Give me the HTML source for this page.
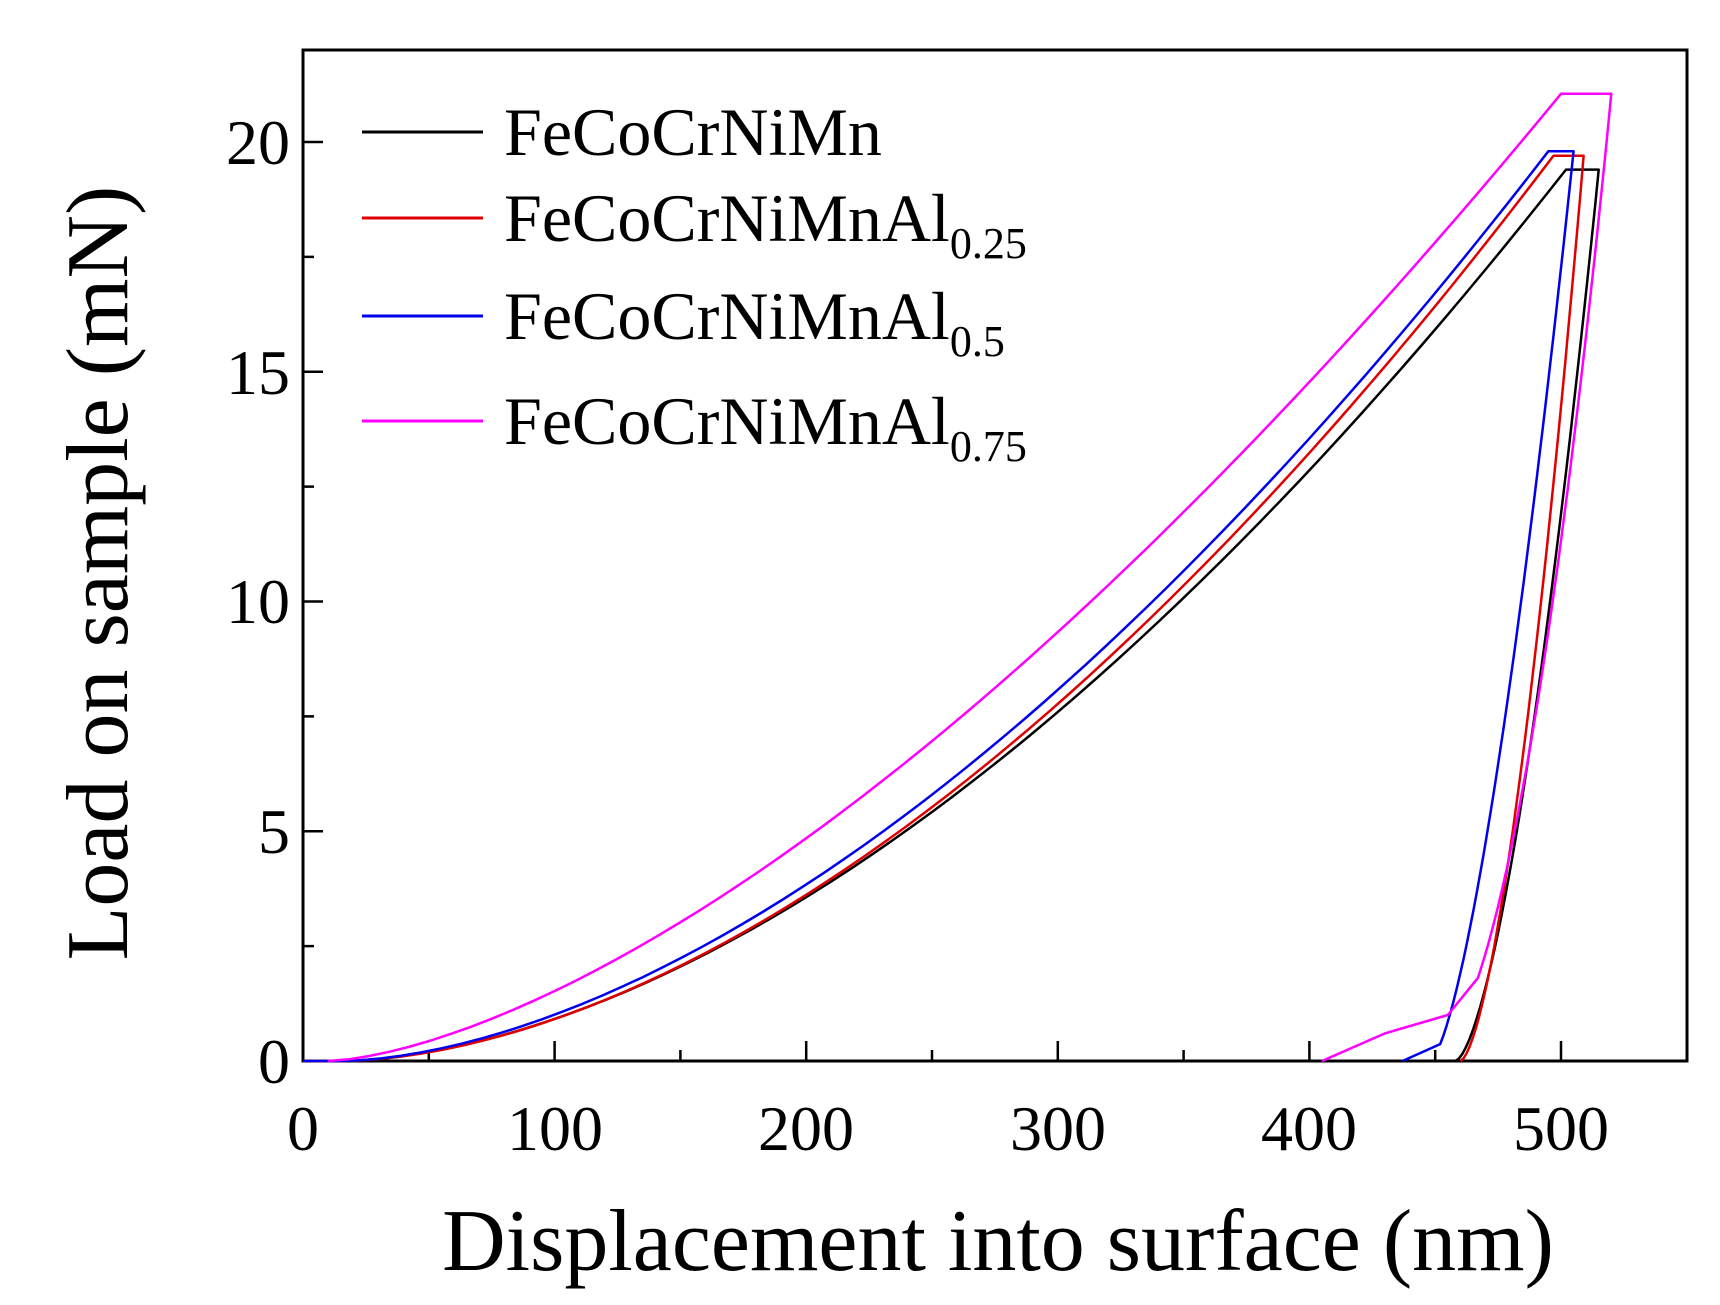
<!DOCTYPE html>
<html><head><style>
html,body{margin:0;padding:0;background:#fff;}
svg{display:block;font-family:"Liberation Serif",serif;}
</style></head><body>
<svg id="s" width="1720" height="1305" viewBox="0 0 1720 1305" xmlns="http://www.w3.org/2000/svg">
<rect x="303" y="50" width="1384" height="1011" fill="none" stroke="#000" stroke-width="3"/>
<g id="ticks" stroke="#000" stroke-width="2.5"></g>
<g font-size="64" fill="#000" text-anchor="end">
<text x="290" y="1083">0</text>
<text x="290" y="853">5</text>
<text x="290" y="623">10</text>
<text x="290" y="394">15</text>
<text x="290" y="164">20</text>
</g>
<g font-size="64" fill="#000" text-anchor="middle">
<text x="303" y="1150">0</text>
<text x="555" y="1150">100</text>
<text x="806" y="1150">200</text>
<text x="1058" y="1150">300</text>
<text x="1309" y="1150">400</text>
<text x="1561" y="1150">500</text>
</g>
<text x="998" y="1270" font-size="88" text-anchor="middle">Displacement into surface (nm)</text>
<text transform="translate(127,573) rotate(-90)" font-size="88" text-anchor="middle">Load on sample (mN)</text>
<g id="curves" fill="none" stroke-width="2.5" stroke-linejoin="round"></g>
<g stroke-width="3">
<line x1="362" y1="132" x2="483" y2="132" stroke="#000"/>
<line x1="362" y1="218" x2="483" y2="218" stroke="#e00000"/>
<line x1="362" y1="316" x2="483" y2="316" stroke="#0000ee"/>
<line x1="362" y1="421" x2="483" y2="421" stroke="#ff00ff"/>
</g>
<g font-size="68" fill="#000">
<text x="504" y="155">FeCoCrNiMn</text>
<text x="504" y="241">FeCoCrNiMnAl<tspan font-size="44" dy="17">0.25</tspan></text>
<text x="504" y="339">FeCoCrNiMnAl<tspan font-size="44" dy="17">0.5</tspan></text>
<text x="504" y="444">FeCoCrNiMnAl<tspan font-size="44" dy="17">0.75</tspan></text>
</g>
</svg>
<script>
var X=function(x){return 303+2.516*x},Y=function(y){return 1061-45.95*y};
var t=document.getElementById('ticks'),h='';
for(var x=50;x<550;x+=50){var L=(x%100==0)?20:11;h+='<line x1="'+X(x)+'" y1="1061" x2="'+X(x)+'" y2="'+(1061-L)+'"/>';}
for(var y=2.5;y<22;y+=2.5){var L=(y%5==0)?20:11;h+='<line x1="303" y1="'+Y(y)+'" x2="'+(303+L)+'" y2="'+Y(y)+'"/>';}
t.innerHTML=h;
function curve(h0,hp,Pp,e,hend,hu0,m,hstop,extra,noStart){
 var p=noStart?[[h0,0]]:[[0,0],[h0,0]];
 for(var i=1;i<=60;i++){var hh=h0+(hp-h0)*i/60;p.push([hh,Pp*Math.pow((hh-h0)/(hp-h0),e)]);}
 p.push([hend,Pp]);
 for(var i=1;i<=40;i++){var hh=hend-(hend-hstop)*i/40;p.push([hh,Pp*Math.pow((hh-hu0)/(hend-hu0),m)]);}
 if(extra)p=p.concat(extra);
 return p.map(function(q){return X(q[0]).toFixed(1)+','+Y(q[1]).toFixed(1)}).join(' ');
}
var c=document.getElementById('curves');
c.innerHTML=
'<polyline stroke="#000" points="'+curve(15,502,19.4,1.75,515,458,1.6,458)+'"/>'+
'<polyline stroke="#e00000" points="'+curve(15,497,19.7,1.77,509,460,1.6,460)+'"/>'+
'<polyline stroke="#0000ee" points="'+curve(15,495,19.8,1.72,505,448,1.5,452,[[437,0]])+'"/>'+
'<polyline stroke="#ff00ff" points="'+curve(10,500,21.05,1.55,520,445,2,467,[[455,1.0],[430,0.6],[405,0]],true)+'"/>';
</script>
</body></html>
